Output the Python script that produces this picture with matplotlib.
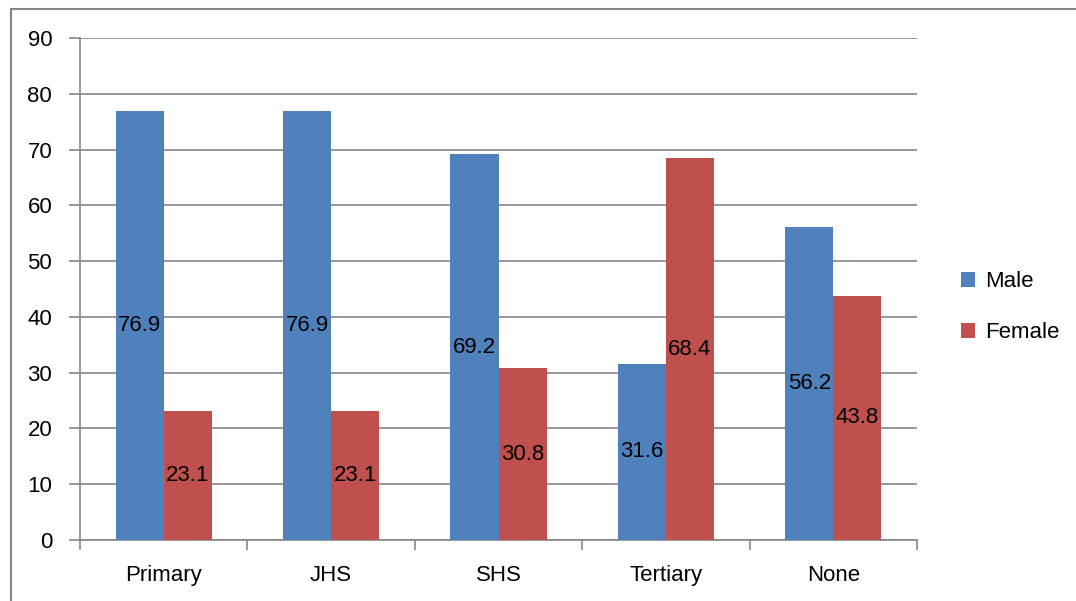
import matplotlib.pyplot as plt
from matplotlib.lines import Line2D
import numpy as np

categories = ['Primary', 'JHS', 'SHS', 'Tertiary', 'None']
male = [76.9, 76.9, 69.2, 31.6, 56.2]
female = [23.1, 23.1, 30.8, 68.4, 43.8]

plt.rcParams['font.family'] = ['Liberation Sans', 'DejaVu Sans']

grid_c = '#868686'
blue = '#4F81BD'
red = '#C0504D'
fs = 16

fig = plt.figure(figsize=(10.76, 6.01), dpi=100)
ax = fig.add_axes([80/1076, 1-540/601, (917-80)/1076, (540-38)/601])

x = np.arange(len(categories))
w = 0.287
b1 = ax.bar(x - w/2, male, w, color=blue, label='Male', zorder=3)
b2 = ax.bar(x + w/2, female, w, color=red, label='Female', zorder=3)

for bars, vals in [(b1, male), (b2, female)]:
    for r, v in zip(bars, vals):
        ax.text(r.get_x() + r.get_width()/2, v/2, '%.1f' % v,
                ha='center', va='center', fontsize=fs, color='black', zorder=4)

ax.set_xlim(-0.5, len(categories) - 0.5)
ax.set_ylim(0, 90)
ax.set_yticks(range(0, 91, 10))
ax.yaxis.grid(True, color=grid_c, lw=1.2, zorder=0)

# category labels between boundary ticks
ax.set_xticks(np.arange(-0.5, len(categories)), minor=False)
ax.set_xticklabels([])
ax.set_xticks(x, minor=True)
ax.set_xticklabels(categories, minor=True)
ax.tick_params(axis='x', which='major', length=7, width=1.2, color=grid_c, direction='out')
ax.tick_params(axis='x', which='minor', length=0, pad=18, labelsize=fs)
ax.tick_params(axis='y', length=8, width=1.2, color=grid_c, pad=12, labelsize=fs)

for s in ['top', 'right']:
    ax.spines[s].set_visible(False)
for s in ['left', 'bottom']:
    ax.spines[s].set_color(grid_c)
    ax.spines[s].set_linewidth(1.2)

ax.legend(loc='center left', bbox_to_anchor=(941/1076, 1-307/601),
          bbox_transform=fig.transFigure, frameon=False, fontsize=fs,
          handlelength=0.65, handleheight=0.65, handletextpad=0.45,
          labelspacing=1.35)

# outer chart border
fig.add_artist(Line2D([11/1076, 11/1076], [0, 1-9/601], color=grid_c, lw=1.5))
fig.add_artist(Line2D([11/1076, 1], [1-9/601, 1-9/601], color=grid_c, lw=1.5))

plt.savefig('out.png', dpi=100)
